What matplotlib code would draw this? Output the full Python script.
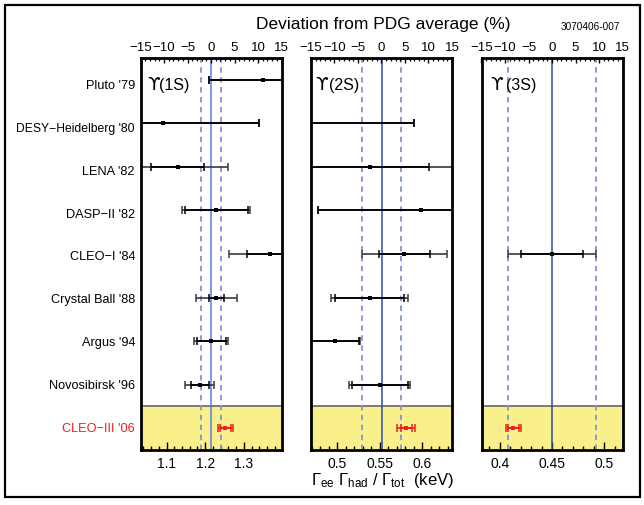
import matplotlib
matplotlib.use("Agg")
import matplotlib.pyplot as plt
from matplotlib.ticker import MultipleLocator, FuncFormatter, NullLocator
from matplotlib.patches import Rectangle
from matplotlib.transforms import offset_copy

plt.rcParams["font.family"] = ["Liberation Sans", "DejaVu Sans"]
plt.rcParams["mathtext.fontset"] = "custom"
plt.rcParams["mathtext.rm"] = "Liberation Sans"
plt.rcParams["mathtext.it"] = "Liberation Sans:italic"
plt.rcParams["mathtext.bf"] = "Liberation Sans:bold"
plt.rcParams["axes.unicode_minus"] = True

# ---------------------------------------------------------------- data
experiments = ["Pluto '79", "DESY\u2212Heidelberg '80", "LENA '82", "DASP\u2212II '82",
               "CLEO\u2212I '84", "Crystal Ball '88", "Argus '94", "Novosibirsk '96",
               "CLEO\u2212III '06"]
states = ["1S", "2S", "3S"]

# PDG averages of Gamma_ee*Gamma_had/Gamma_tot (keV) and their uncertainties
pdg_avg = [1.215, 0.552, 0.450]
pdg_err = [0.027, 0.023, 0.0425]

# central value, statistical error, total error (keV); None = not measured
val_1s = [1.350, 1.090, 1.129, 1.229, 1.368, 1.229, 1.216, 1.186, 1.252]
stat_1s = [0.140, 0.250, 0.069, 0.082, 0.060, 0.019, 0.038, 0.023, 0.015]
tot_1s = [0.140, 0.250, 0.130, 0.088, 0.107, 0.054, 0.044, 0.038, 0.020]

val_2s = [None, 0.440, 0.538, 0.598, 0.579, 0.538, 0.497, 0.550, 0.581]
stat_2s = [None, 0.150, 0.070, 0.120, 0.030, 0.041, 0.029, 0.033, 0.0065]
tot_2s = [None, 0.150, 0.100, 0.120, 0.050, 0.045, 0.030, 0.036, 0.0105]

val_3s = [None, None, None, None, 0.450, None, None, None, 0.413]
stat_3s = [None, None, None, None, 0.030, None, None, None, 0.005]
tot_3s = [None, None, None, None, 0.0425, None, None, None, 0.0075]

pct_ticks = [-15, -10, -5, 0, 5, 10, 15]
major_step = [0.1, 0.05, 0.05]
minor_step = [0.02, 0.01, 0.01]

values = [val_1s, val_2s, val_3s]
stats = [stat_1s, stat_2s, stat_3s]
totals = [tot_1s, tot_2s, tot_3s]

# ---------------------------------------------------------------- layout
W, H = 644, 505
fig = plt.figure(figsize=(W / 100, H / 100), dpi=100)
fig.patch.set_facecolor("white")

panel_left = [140.5, 311.0, 481.5]
panel_w = 141.0
panel_top, panel_bot = 58.0, 450.0

center_color = ["#5a7ddc", "#2d4ea6", "#2d4ea6"]
dash_color = "#8493cf"
band_color = "#f9ef8b"
red = "#ee2020"
n = len(experiments)
label_offsets = [0.045, 0.03, 0.065]
label_gaps = [9.0, 10.0, 11.0]

for p in range(3):
    ax = fig.add_axes([panel_left[p] / W, 1 - panel_bot / H,
                       panel_w / W, (panel_bot - panel_top) / H])
    c = pdg_avg[p]
    ax.set_xlim(c * 0.85, c * 1.15)
    ax.set_ylim(n - 0.5, -0.5)

    # highlighted band for the newest result
    ax.axhspan(n - 1.5, n - 0.5, color=band_color, zorder=0.5, lw=0)
    ax.axhline(n - 1.5, color="#707070", lw=1.3, zorder=1)

    # PDG average and its uncertainty
    ax.axvline(c, color=center_color[p], lw=1.1, zorder=2)
    for s in (-1, 1):
        ax.axvline(c + s * pdg_err[p], color=dash_color, lw=1.3,
                   ls=(0, (3, 2.5)), zorder=2)

    for i in range(n):
        v = values[p][i]
        if v is None:
            continue
        last = i == n - 1
        col = red if last else "black"
        outer = red if last else "#3a3a3a"
        ax.errorbar(v, i, xerr=totals[p][i], fmt="none", ecolor=outer,
                    elinewidth=1.2, capsize=2.6, capthick=1.1, zorder=4)
        ax.errorbar(v, i, xerr=stats[p][i], fmt="none", ecolor=col,
                    elinewidth=1.3, capsize=2.6, capthick=1.1, zorder=5)
        ax.plot(v, i, "s", color=col, ms=2.3, mew=0, zorder=6)

    # bottom axis in keV
    ax.yaxis.set_major_locator(NullLocator())
    ax.xaxis.set_major_locator(MultipleLocator(major_step[p]))
    ax.xaxis.set_minor_locator(MultipleLocator(minor_step[p]))
    ax.xaxis.set_major_formatter(FuncFormatter(lambda x, pos: f"{x:g}"))
    ax.tick_params(axis="x", which="major", direction="in", length=6.0,
                   width=1.0, labelsize=10, pad=5, top=False)
    ax.tick_params(axis="x", which="minor", direction="in", length=2.8,
                   width=1.0, top=False)
    for sp in ax.spines.values():
        sp.set_linewidth(2.0)
        sp.set_zorder(10)

    # top axis: deviation in percent
    at = ax.twiny()
    at.set_xlim(-15, 15)
    at.set_xticks(pct_ticks)
    at.xaxis.set_minor_locator(MultipleLocator(1))
    at.tick_params(axis="x", which="major", direction="in", length=3.8,
                   width=1.0, labelsize=9.5, pad=3)
    at.tick_params(axis="x", which="minor", direction="in", length=1.9,
                   width=0.9)
    for sp in at.spines.values():
        sp.set_visible(False)

    # resonance name: hooked upsilon followed by the state
    tr = ax.get_yaxis_transform()
    ax.text(label_offsets[p], 0.23, "\u03d2", transform=tr,
            family=["DejaVu Sans"], ha="left", va="baseline",
            fontsize=13, zorder=7)
    ax.text(label_offsets[p], 0.23, "(" + states[p] + ")",
            transform=offset_copy(tr, fig=fig, x=label_gaps[p], y=0,
                                  units="points"),
            ha="left", va="baseline", fontsize=11.5, zorder=7)

# experiment labels
for k, name in enumerate(experiments):
    fig.text(135 / W, 1 - (89 + 42.84 * k) / H, name, ha="right",
             va="baseline", fontsize=8.7 if k == 1 else 9.2,
             color=red if k == n - 1 else "black")

fig.text(383 / W, 1 - 24 / H, "Deviation from PDG average (%)",
         ha="center", va="center", fontsize=12.5)
fig.text(590 / W, 1 - 27 / H, "3070406-007", ha="center", va="center",
         fontsize=7.2)
fig.text(383 / W, 1 - 485 / H,
         r"$\Gamma_{\rm ee}\ \Gamma_{\rm had}\ /\ \Gamma_{\rm tot}$  (keV)",
         ha="center", va="baseline", fontsize=12)

fig.patches.append(Rectangle((5 / W, 1 - 497 / H), 635 / W, 492 / H,
                             transform=fig.transFigure, fill=False,
                             lw=1.6, ec="black"))

fig.savefig("out.png", dpi=100)
